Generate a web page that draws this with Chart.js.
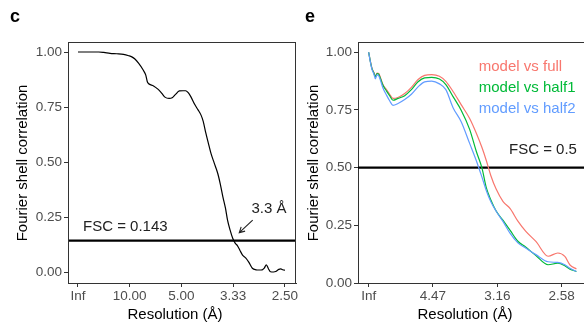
<!DOCTYPE html>
<html>
<head>
<meta charset="utf-8">
<script src="https://cdn.jsdelivr.net/npm/chart.js@4/dist/chart.umd.min.js"></script>
<style>
  html, body { margin: 0; padding: 0; background: #fff; overflow: hidden; }
  #wrap { position: relative; width: 584px; height: 327px; }
  canvas { position: absolute; top: 0; }
</style>
</head>
<body>
<div id="wrap">
  <canvas id="c1" width="300" height="327" style="left:0"></canvas>
  <canvas id="c2" width="284" height="327" style="left:300px"></canvas>
</div>
<script>
// ---------- Panel c data (x = spatial frequency 1/Å) ----------
const cFreq = [0, 0.02, 0.04, 0.05, 0.062, 0.075, 0.088, 0.098, 0.104, 0.110, 0.117, 0.126, 0.131, 0.134, 0.136,
  0.146, 0.155, 0.162, 0.168, 0.176, 0.182, 0.188, 0.196, 0.203, 0.208, 0.213, 0.218, 0.226, 0.232, 0.238, 0.242,
  0.247, 0.252, 0.257, 0.263, 0.270, 0.275, 0.280, 0.285, 0.289, 0.294, 0.299, 0.304, 0.308, 0.313, 0.318, 0.324,
  0.330, 0.337, 0.344, 0.350, 0.356, 0.360, 0.364, 0.368, 0.372, 0.378, 0.382, 0.388, 0.392, 0.396, 0.400];
const cFsc = [1.000, 1.000, 1.000, 0.998, 0.994, 0.992, 0.989, 0.983, 0.978, 0.968, 0.949, 0.918, 0.895, 0.865, 0.857,
  0.846, 0.830, 0.812, 0.795, 0.789, 0.792, 0.806, 0.823, 0.824, 0.824, 0.815, 0.797, 0.760, 0.737, 0.712, 0.685,
  0.632, 0.585, 0.539, 0.497, 0.449, 0.400, 0.342, 0.290, 0.236, 0.190, 0.153, 0.130, 0.120, 0.098, 0.077, 0.064,
  0.045, 0.017, 0.010, 0.009, 0.010, 0.018, 0.032, 0.015, 0.001, 0.000, 0.002, 0.012, 0.014, 0.010, 0.008];
const cXTicks = [0, 0.1, 0.2, 0.3, 0.4];
const cXLabels = ["Inf", "10.00", "5.00", "3.33", "2.50"];
const cThreshold = 0.143;
const cThresholdLabel = "FSC = 0.143";
const cResLabel = "3.3 Å";

// ---------- Panel e data (x = 1/d², Å⁻²) ----------
const eFreq = [0, 0.0013, 0.0026, 0.0041, 0.0052, 0.0065, 0.0078, 0.0093, 0.0111, 0.0138, 0.0163, 0.0189, 0.0228,
  0.028, 0.0332, 0.0384, 0.0435, 0.049, 0.055, 0.06, 0.0656, 0.072, 0.0785, 0.0837, 0.088, 0.0915, 0.095, 0.099,
  0.1045, 0.11, 0.116, 0.122, 0.13, 0.1395, 0.147, 0.1525, 0.1565, 0.1615];
const eFull = [1.0, 0.962, 0.930, 0.912, 0.895, 0.910, 0.908, 0.888, 0.860, 0.838, 0.818, 0.800, 0.804,
  0.821, 0.848, 0.882, 0.900, 0.903, 0.896, 0.874, 0.830, 0.772, 0.713, 0.649, 0.588, 0.530, 0.465, 0.408,
  0.353, 0.322, 0.268, 0.225, 0.180, 0.116, 0.130, 0.115, 0.078, 0.061];
const eHalf1 = [1.0, 0.960, 0.928, 0.910, 0.893, 0.908, 0.905, 0.884, 0.857, 0.833, 0.812, 0.792, 0.800,
  0.812, 0.838, 0.872, 0.889, 0.891, 0.884, 0.860, 0.808, 0.748, 0.666, 0.570, 0.500, 0.412, 0.360, 0.313,
  0.271, 0.228, 0.181, 0.156, 0.119, 0.079, 0.086, 0.075, 0.060, 0.050];
const eHalf2 = [1.0, 0.958, 0.925, 0.905, 0.885, 0.902, 0.898, 0.876, 0.845, 0.815, 0.790, 0.770, 0.778,
  0.795, 0.818, 0.850, 0.872, 0.875, 0.863, 0.838, 0.760, 0.698, 0.605, 0.530, 0.460, 0.400, 0.352, 0.312,
  0.266, 0.215, 0.174, 0.152, 0.123, 0.092, 0.089, 0.079, 0.064, 0.050];
const eSeriesNames = ["model vs full", "model vs half1", "model vs half2"];
const eSeriesColors = ["#F8766D", "#00BA38", "#619CFF"];
const eXTicks = [0, 0.05, 0.10, 0.15];
const eXLabels = ["Inf", "4.47", "3.16", "2.58"];
const eThreshold = 0.5;
const eThresholdLabel = "FSC = 0.5";

const yTicks = [0, 0.25, 0.5, 0.75, 1.0];
const yLabels = ["0.00", "0.25", "0.50", "0.75", "1.00"];

const FONT = "'Liberation Sans', Arial, Helvetica, sans-serif";
const TICK_COLOR = "#4D4D4D";
const FRAME = "#333333";

function pts(xs, ys) { return xs.map((x, i) => ({ x: x, y: ys[i] })); }

function xScale(min, max, ticks, labels) {
  return {
    type: 'linear', min: min, max: max,
    afterBuildTicks: s => { s.ticks = ticks.map(v => ({ value: v })); },
    afterFit: s => { s.height = 44; },
    ticks: { callback: (v, i) => labels[i], color: TICK_COLOR, font: { family: FONT, size: 13.5 }, padding: 1, maxRotation: 0, autoSkip: false },
    grid: { drawOnChartArea: false, drawTicks: true, tickLength: 4, tickWidth: 1, tickColor: FRAME, color: FRAME },
    border: { display: true, color: FRAME, width: 1 }
  };
}
function yScale(min, max, width) {
  return {
    type: 'linear', min: min, max: max,
    afterBuildTicks: s => { s.ticks = yTicks.map(v => ({ value: v })); },
    afterFit: s => { s.width = width; },
    ticks: { callback: (v, i) => yLabels[i], color: TICK_COLOR, font: { family: FONT, size: 13.5 }, padding: 2, autoSkip: false },
    grid: { drawOnChartArea: false, drawTicks: true, tickLength: 4, tickWidth: 1, tickColor: FRAME, color: FRAME },
    border: { display: true, color: FRAME, width: 1 }
  };
}

function text(ctx, str, x, y, opts) {
  ctx.save();
  ctx.font = (opts.weight || '') + ' ' + (opts.size || 15) + 'px ' + FONT;
  ctx.fillStyle = opts.color || '#000';
  ctx.textAlign = opts.align || 'center';
  ctx.textBaseline = 'middle';
  if (opts.rotate) { ctx.translate(x, y); ctx.rotate(opts.rotate); ctx.fillText(str, 0, 0); }
  else ctx.fillText(str, x, y);
  ctx.restore();
}

const common = {
  responsive: false, animation: false, devicePixelRatio: 1,
  plugins: { legend: { display: false }, tooltip: { enabled: false } },
  elements: { point: { radius: 0 } }
};

// ---------- Chart c ----------
new Chart(document.getElementById('c1'), {
  type: 'line',
  data: {
    datasets: [
      { data: pts(cFreq, cFsc), borderColor: '#000', borderWidth: 1.2, cubicInterpolationMode: 'monotone', fill: false },
      { data: [{ x: -1, y: cThreshold }, { x: 1, y: cThreshold }], borderColor: '#000', borderWidth: 2.2, fill: false }
    ]
  },
  options: Object.assign({}, common, {
    layout: { padding: { top: 42, right: 4, left: 0, bottom: 0 } },
    scales: { x: xScale(-0.0193, 0.4213, cXTicks, cXLabels), y: yScale(-0.05, 1.0455, 68) }
  }),
  plugins: [{
    id: 'decorC',
    afterDraw(chart) {
      const ctx = chart.ctx, a = chart.chartArea, xs = chart.scales.x, ys = chart.scales.y;
      ctx.save(); ctx.strokeStyle = FRAME; ctx.lineWidth = 1;
      ctx.strokeRect(a.left + 0.5, a.top + 0.5, a.right - a.left - 1, a.bottom - a.top);
      ctx.restore();
      text(ctx, 'c', 15, 17, { size: 18, weight: 'bold' });
      text(ctx, 'Fourier shell correlation', 23, 163, { rotate: -Math.PI / 2 });
      text(ctx, 'Resolution (Å)', 175, 315, {});
      text(ctx, cThresholdLabel, xs.getPixelForValue(0.0097), ys.getPixelForValue(0.2045), { align: 'left', color: '#222' });
      text(ctx, cResLabel, xs.getPixelForValue(0.369), ys.getPixelForValue(0.286), { color: '#222' });
      // arrow
      const x0 = xs.getPixelForValue(0.3376), y0 = ys.getPixelForValue(0.236);
      const x1 = xs.getPixelForValue(0.3117), y1 = ys.getPixelForValue(0.179);
      const ang = Math.atan2(y1 - y0, x1 - x0), L = 6;
      ctx.save(); ctx.strokeStyle = '#222'; ctx.lineWidth = 1.1;
      ctx.beginPath(); ctx.moveTo(x0, y0); ctx.lineTo(x1, y1);
      ctx.moveTo(x1 - L * Math.cos(ang - 0.5), y1 - L * Math.sin(ang - 0.5)); ctx.lineTo(x1, y1);
      ctx.lineTo(x1 - L * Math.cos(ang + 0.5), y1 - L * Math.sin(ang + 0.5));
      ctx.stroke(); ctx.restore();
    }
  }]
});

// ---------- Chart e ----------
const eData = [eFull, eHalf1, eHalf2];
new Chart(document.getElementById('c2'), {
  type: 'line',
  data: {
    datasets: eData.map((d, i) => ({ data: pts(eFreq, d), borderColor: eSeriesColors[i], borderWidth: 1.2, cubicInterpolationMode: 'monotone', fill: false }))
      .reverse()
      .concat([{ data: [{ x: -1, y: eThreshold }, { x: 1, y: eThreshold }], borderColor: '#000', borderWidth: 2.2, fill: false }])
  },
  options: Object.assign({}, common, {
    layout: { padding: { top: 42, right: 0, left: 0, bottom: 0 } },
    scales: { x: xScale(-0.0083, 0.1674, eXTicks, eXLabels), y: yScale(0, 1.0445, 58) }
  }),
  plugins: [{
    id: 'decorE',
    afterDraw(chart) {
      const ctx = chart.ctx, a = chart.chartArea, xs = chart.scales.x, ys = chart.scales.y;
      ctx.save(); ctx.strokeStyle = FRAME; ctx.lineWidth = 1;
      ctx.beginPath(); ctx.moveTo(a.left, a.top + 0.5); ctx.lineTo(a.right, a.top + 0.5); ctx.stroke();
      ctx.restore();
      text(ctx, 'e', 10, 17, { size: 18, weight: 'bold' });
      text(ctx, 'Fourier shell correlation', 14, 163, { rotate: -Math.PI / 2 });
      text(ctx, 'Resolution (Å)', 165, 315, {});
      text(ctx, eThresholdLabel, xs.getPixelForValue(0.1619), ys.getPixelForValue(0.576), { align: 'right', color: '#222' });
      const ly = [0.935, 0.844, 0.753];
      eSeriesNames.forEach((n, i) => text(ctx, n, xs.getPixelForValue(0.0856), ys.getPixelForValue(ly[i]), { align: 'left', color: eSeriesColors[i] }));
    }
  }]
});
</script>
</body>
</html>
